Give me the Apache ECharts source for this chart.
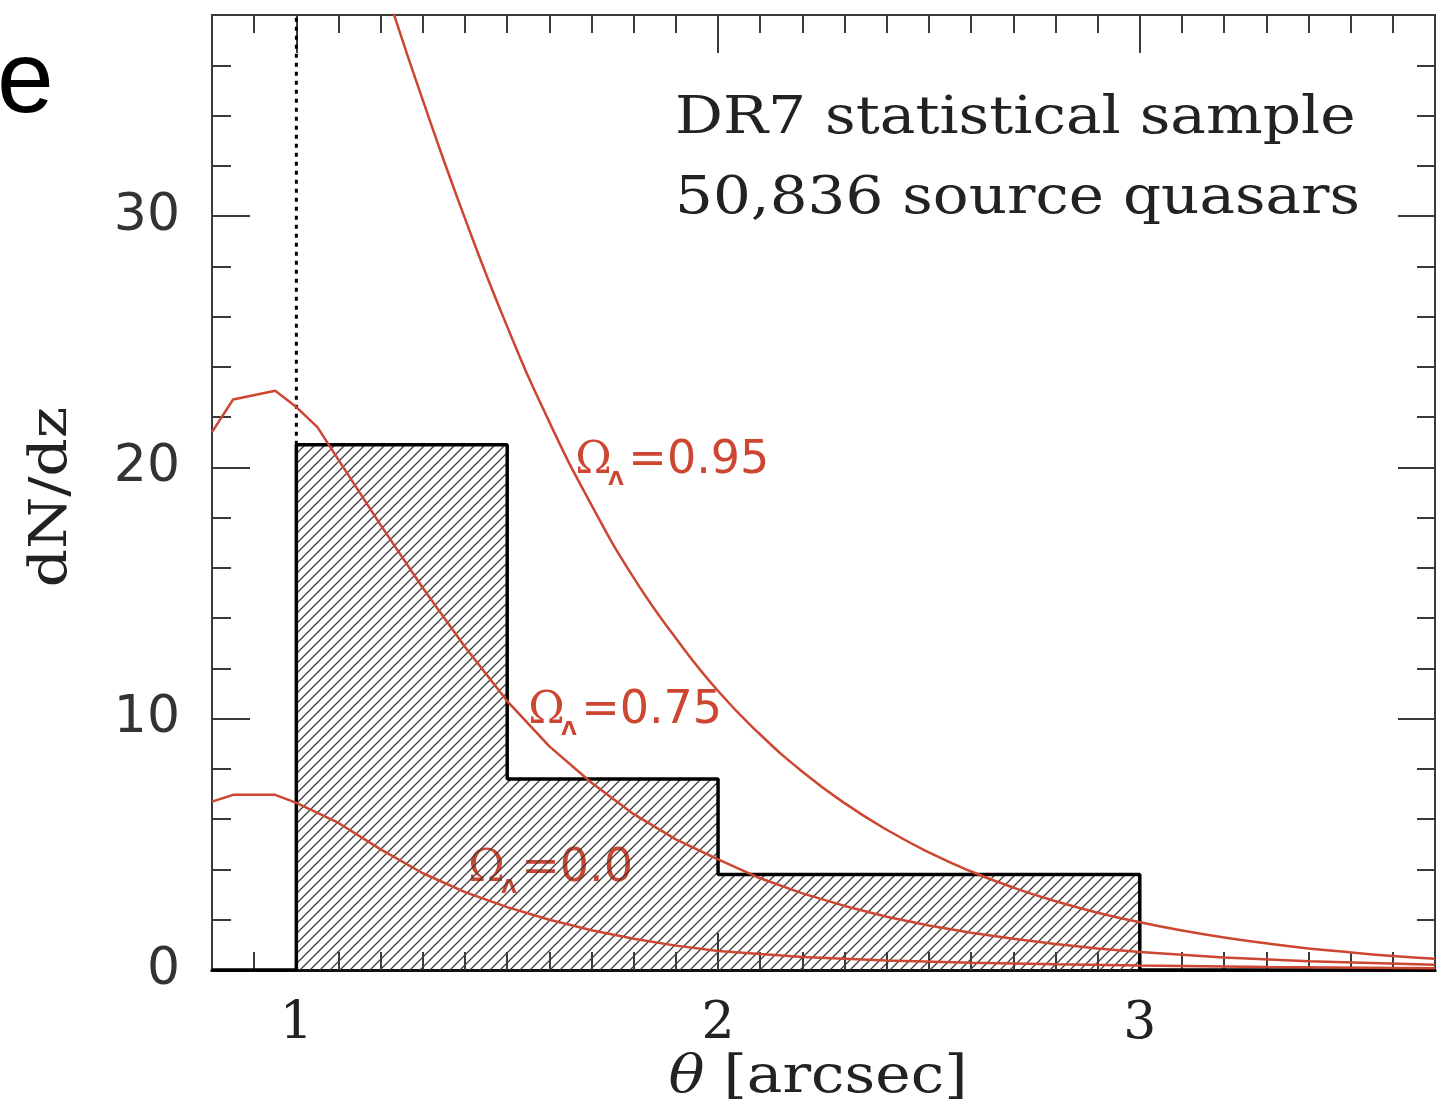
<!DOCTYPE html>
<html>
<head>
<meta charset="utf-8">
<script src="https://cdn.jsdelivr.net/npm/echarts@6/dist/echarts.min.js"></script>
<style>
  html, body { margin: 0; padding: 0; background: #ffffff; }
  #chart { width: 1452px; height: 1113px; }
</style>
</head>
<body>
<div id="chart"></div>
<script>
// Observed lens separations: histogram bin edges (arcsec) and dN/dz per bin
const binEdges = [1.0, 1.5, 2.0, 3.0];
const binCounts = [20.9, 7.6, 3.8];

// Model predictions, Omega_Lambda = 0.95
const theta95 = [1.23, 1.30, 1.40, 1.50, 1.60, 1.70, 1.80, 1.90, 2.00, 2.10, 2.20, 2.30, 2.40,
                 2.50, 2.60, 2.70, 2.80, 2.90, 3.00, 3.10, 3.20, 3.30, 3.40, 3.50, 3.60, 3.70];
const dndz95 = [38.1, 34.6, 29.9, 25.6, 21.8, 18.5, 15.6, 13.2, 11.1, 9.37, 7.89, 6.64, 5.58,
                4.68, 3.92, 3.28, 2.74, 2.28, 1.90, 1.57, 1.29, 1.06, 0.86, 0.70, 0.56, 0.45];

// Model predictions, Omega_Lambda = 0.75
const theta75 = [0.80, 0.85, 0.95, 1.00, 1.05, 1.10, 1.20, 1.30, 1.40, 1.50, 1.60, 1.70, 1.80,
                 1.90, 2.00, 2.10, 2.20, 2.30, 2.40, 2.50, 2.60, 2.70, 2.80, 2.90, 3.00, 3.20, 3.40, 3.70];
const dndz75 = [21.4, 22.7, 23.05, 22.4, 21.6, 20.3, 17.7, 15.2, 12.85, 10.7, 8.9, 7.45, 6.2,
                5.2, 4.4, 3.65, 3.05, 2.55, 2.12, 1.77, 1.48, 1.24, 1.03, 0.86, 0.72, 0.5, 0.35, 0.21];

// Model predictions, Omega_Lambda = 0.0
const theta00 = [0.80, 0.85, 0.95, 1.00, 1.10, 1.20, 1.30, 1.40, 1.50, 1.60, 1.70, 1.80, 1.90,
                 2.00, 2.20, 2.40, 2.60, 2.80, 3.00, 3.30, 3.70];
const dndz00 = [6.7, 6.97, 6.97, 6.65, 5.85, 4.8, 3.85, 3.1, 2.5, 2.0, 1.58, 1.24, 0.97,
                0.76, 0.52, 0.38, 0.29, 0.23, 0.18, 0.12, 0.07];

// Axis ticks
const xTickLabels = [1, 2, 3];
const yTickLabels = [0, 10, 20, 30];
const X_MIN = 0.8, X_MAX = 3.7, Y_MIN = 0, Y_MAX = 38;

const RED = '#cc4631';
const INK = '#222222';
const FRAME = '#3a3a3a';
// distance from a text's middle line down to its baseline, as a fraction of font size
const MID_TO_BASE = 0.29;

function minorTicks(lo, hi, step, majors) {
  const out = [];
  const n = Math.round((hi - lo) / step);
  for (let i = 1; i < n; i++) {
    const v = +(lo + i * step).toFixed(4);
    if (!majors.some(m => Math.abs(m - v) < 1e-6)) out.push(v);
  }
  return out;
}
const xMinor = minorTicks(X_MIN, X_MAX, 0.1, xTickLabels);
const yMinor = minorTicks(Y_MIN, Y_MAX, 2, yTickLabels);

// Step outline of the histogram
function histogramOutline() {
  const pts = [[X_MIN, 0], [binEdges[0], 0]];
  for (let i = 0; i < binCounts.length; i++) {
    pts.push([binEdges[i], binCounts[i]], [binEdges[i + 1], binCounts[i]]);
  }
  pts.push([binEdges[binEdges.length - 1], 0], [X_MAX, 0]);
  return pts;
}
const zip = (xs, ys) => xs.map((x, i) => [x, ys[i]]);

// Diagonal hatch pattern for the histogram fill
function hatchPattern() {
  const s = 10;
  const c = document.createElement('canvas');
  c.width = s; c.height = s;
  const g = c.getContext('2d');
  g.strokeStyle = '#3c3c3c';
  g.lineWidth = 1.25;
  g.beginPath();
  g.moveTo(0, s); g.lineTo(s, 0);
  g.moveTo(-s / 2, s / 2); g.lineTo(s / 2, -s / 2);
  g.moveTo(s / 2, s * 1.5); g.lineTo(s * 1.5, s / 2);
  g.stroke();
  return c;
}

function xAxisDef(position, ticks, len, withLabels, lineStyle) {
  return {
    type: 'value', position: position, min: X_MIN, max: X_MAX,
    axisLine: { show: true, onZero: false, lineStyle: lineStyle },
    axisTick: { show: true, inside: true, length: len, customValues: ticks,
                lineStyle: { color: FRAME, width: 2 } },
    axisLabel: withLabels ? {
      show: true, customValues: ticks, margin: 28,
      fontFamily: 'DejaVu Serif', fontSize: 52, color: INK
    } : { show: false },
    splitLine: { show: false }
  };
}
function yAxisDef(position, ticks, len, withLabels) {
  return {
    type: 'value', position: position, min: Y_MIN, max: Y_MAX,
    axisLine: { show: true, onZero: false, lineStyle: { color: FRAME, width: 2 } },
    axisTick: { show: true, inside: true, length: len, customValues: ticks,
                lineStyle: { color: FRAME, width: 2 } },
    axisLabel: withLabels ? {
      show: true, customValues: ticks, margin: 32,
      fontFamily: 'DejaVu Sans', fontSize: 52, color: '#333333'
    } : { show: false },
    splitLine: { show: false }
  };
}

const chart = echarts.init(document.getElementById('chart'), null, { renderer: 'canvas' });

const curveStyle = { color: RED, width: 2.5 };

chart.setOption({
  animation: false,
  backgroundColor: '#ffffff',
  grid: { left: 212, top: 15, right: 17, bottom: 143, containLabel: false },
  xAxis: [
    xAxisDef('bottom', xTickLabels, 37, true, { color: '#111111', width: 3 }),
    xAxisDef('bottom', xMinor, 18, false, { color: '#111111', width: 3 }),
    xAxisDef('top', xTickLabels, 38, false, { color: FRAME, width: 2 }),
    xAxisDef('top', xMinor, 18, false, { color: FRAME, width: 2 })
  ],
  yAxis: [
    yAxisDef('left', yTickLabels, 38, true),
    yAxisDef('left', yMinor, 19, false),
    yAxisDef('right', yTickLabels, 37, false),
    yAxisDef('right', yMinor, 18, false)
  ],
  series: [
    {
      name: 'DR7 lenses', type: 'line', xAxisIndex: 0, yAxisIndex: 0,
      data: histogramOutline(), showSymbol: false, symbol: 'none',
      lineStyle: { color: '#000000', width: 3.5 },
      areaStyle: { color: { image: hatchPattern(), repeat: 'repeat' }, opacity: 1 },
      z: 2
    },
    {
      name: 'separation limit', type: 'line', xAxisIndex: 0, yAxisIndex: 0,
      data: [[binEdges[0], binCounts[0]], [binEdges[0], Y_MAX]],
      showSymbol: false, symbol: 'none',
      lineStyle: { color: '#000000', width: 3, type: [4, 5] },
      z: 3
    },
    {
      name: 'ΩΛ=0.95', type: 'line', xAxisIndex: 0, yAxisIndex: 0,
      data: zip(theta95, dndz95), smooth: true, showSymbol: false, symbol: 'none',
      lineStyle: curveStyle, clip: true, z: 4
    },
    {
      name: 'ΩΛ=0.75', type: 'line', xAxisIndex: 0, yAxisIndex: 0,
      data: zip(theta75, dndz75), smooth: false, showSymbol: false, symbol: 'none',
      lineStyle: curveStyle, clip: true, z: 4
    },
    {
      name: 'ΩΛ=0.0', type: 'line', xAxisIndex: 0, yAxisIndex: 0,
      data: zip(theta00, dndz00), smooth: false, showSymbol: false, symbol: 'none',
      lineStyle: curveStyle, clip: true, z: 4
    }
  ]
});

// Curve labels, anchored at the lower-left of each label in data space
const curveLabels = [
  { value: '0.95', at: [1.664, 19.72] },
  { value: '0.75', at: [1.552, 9.76] },
  { value: '0.0',  at: [1.41, 3.47] }
];

function omegaLabel(lbl) {
  const p = chart.convertToPixel({ xAxisIndex: 0, yAxisIndex: 0 }, lbl.at);
  const x0 = p[0], base = p[1];
  return {
    type: 'group', children: [
      { type: 'text', x: x0 - 1, y: base - MID_TO_BASE * 44,
        style: { text: 'Ω', fontFamily: 'DejaVu Serif', fontSize: 44, fill: RED,
                 align: 'left', verticalAlign: 'middle' } },
      { type: 'text', x: x0 + 32, y: base + 11 - MID_TO_BASE * 20,
        style: { text: 'Λ', fontFamily: 'DejaVu Sans', fontWeight: 'bold', fontSize: 20, fill: RED,
                 align: 'left', verticalAlign: 'middle' } },
      { type: 'text', x: x0 + 52, y: base - MID_TO_BASE * 46,
        style: { text: '=' + lbl.value, fontFamily: 'DejaVu Sans', fontSize: 46, fill: RED,
                 align: 'left', verticalAlign: 'middle' } }
    ]
  };
}

chart.setOption({
  graphic: [
    // leftover letter from the surrounding page
    { type: 'text', x: -3, y: 113 - MID_TO_BASE * 102,
      style: { text: 'e', fontFamily: 'Liberation Sans', fontSize: 102, fill: '#000000',
               align: 'left', verticalAlign: 'middle' } },
    // sample description
    { type: 'text', x: 675, y: 135 - MID_TO_BASE * 52, scaleX: 1.15,
      style: { text: 'DR7 statistical sample', fontFamily: 'DejaVu Serif', fontSize: 52, fill: INK,
               align: 'left', verticalAlign: 'middle' } },
    { type: 'text', x: 675, y: 215 - MID_TO_BASE * 52, scaleX: 1.145,
      style: { text: '50,836 source quasars', fontFamily: 'DejaVu Serif', fontSize: 52, fill: INK,
               align: 'left', verticalAlign: 'middle' } },
    // axis titles
    { type: 'text', x: 818, y: 1094 - MID_TO_BASE * 52, scaleX: 1.15,
      style: { text: '{i|θ} [arcsec]', fontFamily: 'DejaVu Serif', fontSize: 52, fill: INK,
               align: 'center', verticalAlign: 'middle',
               rich: { i: { fontFamily: 'DejaVu Serif', fontStyle: 'italic', fontSize: 52, fill: INK } } } },
    { type: 'text', x: 52, y: 497, rotation: Math.PI / 2, scaleX: 1.15,
      style: { text: 'dN/dz', fontFamily: 'DejaVu Serif', fontSize: 52, fill: INK,
               align: 'center', verticalAlign: 'middle' } }
  ].concat(curveLabels.map(omegaLabel))
});
</script>
</body>
</html>
